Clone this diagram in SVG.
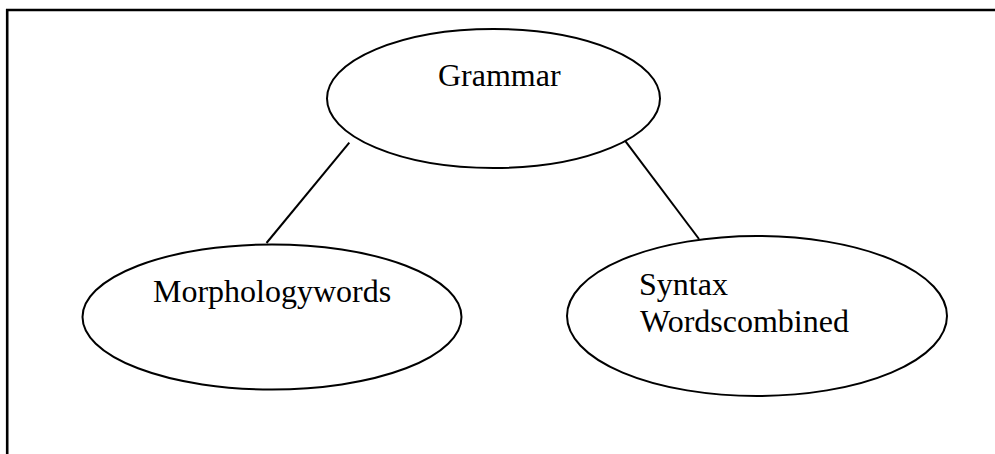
<svg xmlns="http://www.w3.org/2000/svg" width="995" height="454" viewBox="0 0 995 454">
<style>
.node{fill:#fff;stroke:#000;stroke-width:2}
.lbl{font-family:"Liberation Serif","Times New Roman",serif;font-size:32px;fill:#000}
.edge{stroke:#000;stroke-width:2;fill:none}
</style>
<rect width="995" height="454" fill="#fff"/>
<path d="M7.2 460 V10 H1000" fill="none" stroke="#000" stroke-width="2.6"/>
<g id="connectors">
<line class="edge" x1="349.3" y1="142.7" x2="266.5" y2="243"/>
<line class="edge" x1="625" y1="140.7" x2="699" y2="239"/>
</g>
<g id="grammar">
<ellipse class="node" cx="493.5" cy="98.5" rx="166.5" ry="69.5"/>
<text class="lbl" x="438" y="85.7">Grammar</text>
</g>
<g id="morphology">
<ellipse class="node" cx="272" cy="317" rx="189.5" ry="72.5"/>
<text class="lbl" x="153" y="301.7">Morphologywords</text>
</g>
<g id="syntax">
<ellipse class="node" cx="757" cy="316" rx="190" ry="80"/>
<text class="lbl" x="639" y="295">Syntax</text>
<text class="lbl" x="640" y="331.7">Wordscombined</text>
</g>
</svg>
